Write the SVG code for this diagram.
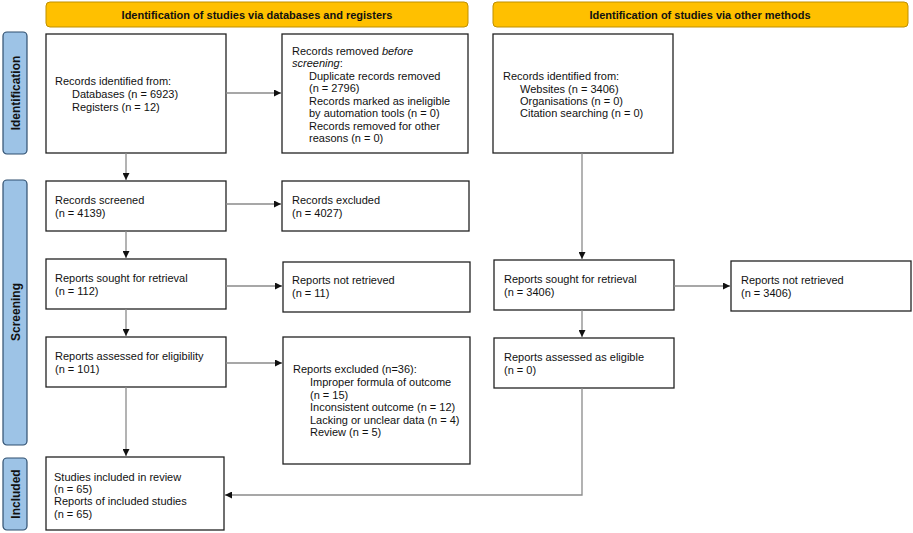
<svg xmlns="http://www.w3.org/2000/svg" width="913" height="533" viewBox="0 0 913 533">
<defs>
<style>
.hdr{fill:#FFC000;stroke:#BF9000;stroke-width:1}
.side{fill:#9DC3E6;stroke:#2F4F6F;stroke-width:1.2}
.box{fill:#fff;stroke:#222;stroke-width:1.3}
.t{font-family:"Liberation Sans",Arial,sans-serif;font-size:11px;fill:#111}
.ht{font-family:"Liberation Sans",Arial,sans-serif;font-size:11px;font-weight:bold;fill:#111;text-anchor:middle}
.st{font-family:"Liberation Sans",Arial,sans-serif;font-size:12px;font-weight:bold;fill:#111;text-anchor:middle}
.c{fill:none;stroke:#8a8a8a;stroke-width:1.3}
</style>
<marker id="ah" viewBox="0 0 10 10" refX="10" refY="5" markerWidth="7" markerHeight="7" markerUnits="userSpaceOnUse" orient="auto">
<path d="M0,0 L10,5 L0,10 z" fill="#111"/>
</marker>
</defs>
<rect width="913" height="533" fill="#fff"/>

<g id="header-db"><rect class="hdr" x="46" y="2" width="422" height="25" rx="4"/><text class="ht" x="257" y="19">Identification of studies via databases and registers</text></g>
<g id="header-other"><rect class="hdr" x="493" y="2" width="415" height="25" rx="4"/><text class="ht" x="700" y="19">Identification of studies via other methods</text></g>

<g id="side-identification"><rect class="side" x="3" y="32" width="24" height="122" rx="4"/><text class="st" transform="translate(19.5,93) rotate(-90)">Identification</text></g>
<g id="side-screening"><rect class="side" x="3" y="180" width="24" height="265" rx="4"/><text class="st" transform="translate(19.5,312) rotate(-90)">Screening</text></g>
<g id="side-included"><rect class="side" x="3" y="458" width="24" height="72" rx="4"/><text class="st" transform="translate(19.5,494) rotate(-90)">Included</text></g>

<g id="records-identified"><rect class="box" x="46" y="34" width="180" height="119"/>
<text class="t" x="55" y="85">Records identified from:</text>
<text class="t" x="72" y="98">Databases (n = 6923)</text>
<text class="t" x="72" y="111">Registers (n = 12)</text></g>

<g id="records-removed"><rect class="box" x="282" y="34" width="186" height="119"/>
<text class="t" x="292" y="55">Records removed <tspan font-style="italic">before</tspan></text>
<text class="t" x="292" y="67"><tspan font-style="italic">screening</tspan>:</text>
<text class="t" x="309" y="80">Duplicate records removed</text>
<text class="t" x="309" y="92">(n = 2796)</text>
<text class="t" x="309" y="105">Records marked as ineligible</text>
<text class="t" x="309" y="117">by automation tools (n = 0)</text>
<text class="t" x="309" y="130">Records removed for other</text>
<text class="t" x="309" y="142">reasons (n = 0)</text></g>

<g id="other-identified"><rect class="box" x="493" y="34" width="180" height="119"/>
<text class="t" x="503" y="80">Records identified from:</text>
<text class="t" x="520" y="93">Websites (n = 3406)</text>
<text class="t" x="520" y="105">Organisations (n = 0)</text>
<text class="t" x="520" y="117">Citation searching (n = 0)</text></g>

<g id="records-screened"><rect class="box" x="46" y="181" width="180" height="50"/>
<text class="t" x="55" y="204">Records screened</text>
<text class="t" x="55" y="217">(n = 4139)</text></g>

<g id="records-excluded"><rect class="box" x="282" y="181" width="187" height="50"/>
<text class="t" x="292" y="204">Records excluded</text>
<text class="t" x="292" y="217">(n = 4027)</text></g>

<g id="reports-sought"><rect class="box" x="46" y="259" width="180" height="50"/>
<text class="t" x="55" y="282">Reports sought for retrieval</text>
<text class="t" x="55" y="295">(n = 112)</text></g>

<g id="reports-not-retrieved"><rect class="box" x="283" y="262" width="187" height="50"/>
<text class="t" x="292" y="284">Reports not retrieved</text>
<text class="t" x="292" y="297">(n = 11)</text></g>

<g id="reports-assessed"><rect class="box" x="46" y="337" width="180" height="50"/>
<text class="t" x="55" y="360">Reports assessed for eligibility</text>
<text class="t" x="55" y="373">(n = 101)</text></g>

<g id="reports-excluded"><rect class="box" x="283" y="337" width="187" height="127"/>
<text class="t" x="293" y="373">Reports excluded (n=36):</text>
<text class="t" x="310" y="386">Improper formula of outcome</text>
<text class="t" x="310" y="399">(n = 15)</text>
<text class="t" x="310" y="411">Inconsistent outcome (n = 12)</text>
<text class="t" x="310" y="424">Lacking or unclear data (n = 4)</text>
<text class="t" x="310" y="436">Review (n = 5)</text></g>

<g id="other-sought"><rect class="box" x="494" y="260" width="180" height="50"/>
<text class="t" x="504" y="283">Reports sought for retrieval</text>
<text class="t" x="504" y="296">(n = 3406)</text></g>

<g id="other-not-retrieved"><rect class="box" x="731" y="261" width="180" height="50"/>
<text class="t" x="741" y="284">Reports not retrieved</text>
<text class="t" x="741" y="297">(n = 3406)</text></g>

<g id="other-eligible"><rect class="box" x="494" y="338" width="180" height="50"/>
<text class="t" x="504" y="361">Reports assessed as eligible</text>
<text class="t" x="504" y="374">(n = 0)</text></g>

<g id="studies-included"><rect class="box" x="46" y="457" width="178" height="73"/>
<text class="t" x="54" y="481">Studies included in review</text>
<text class="t" x="54" y="493">(n = 65)</text>
<text class="t" x="54" y="505">Reports of included studies</text>
<text class="t" x="54" y="518">(n = 65)</text></g>

<g id="connectors">
<path class="c" d="M126,153 V180" marker-end="url(#ah)"/>
<path class="c" d="M226,93 H281" marker-end="url(#ah)"/>
<path class="c" d="M226,204 H281" marker-end="url(#ah)"/>
<path class="c" d="M126,231 V258" marker-end="url(#ah)"/>
<path class="c" d="M226,286 H282" marker-end="url(#ah)"/>
<path class="c" d="M126,309 V336" marker-end="url(#ah)"/>
<path class="c" d="M226,363 H282" marker-end="url(#ah)"/>
<path class="c" d="M126,387 V456" marker-end="url(#ah)"/>
<path class="c" d="M582,153 V259" marker-end="url(#ah)"/>
<path class="c" d="M674,286 H730" marker-end="url(#ah)"/>
<path class="c" d="M582,310 V337" marker-end="url(#ah)"/>
<path class="c" d="M582,388 V495 H225" marker-end="url(#ah)"/>
</g>
</svg>
